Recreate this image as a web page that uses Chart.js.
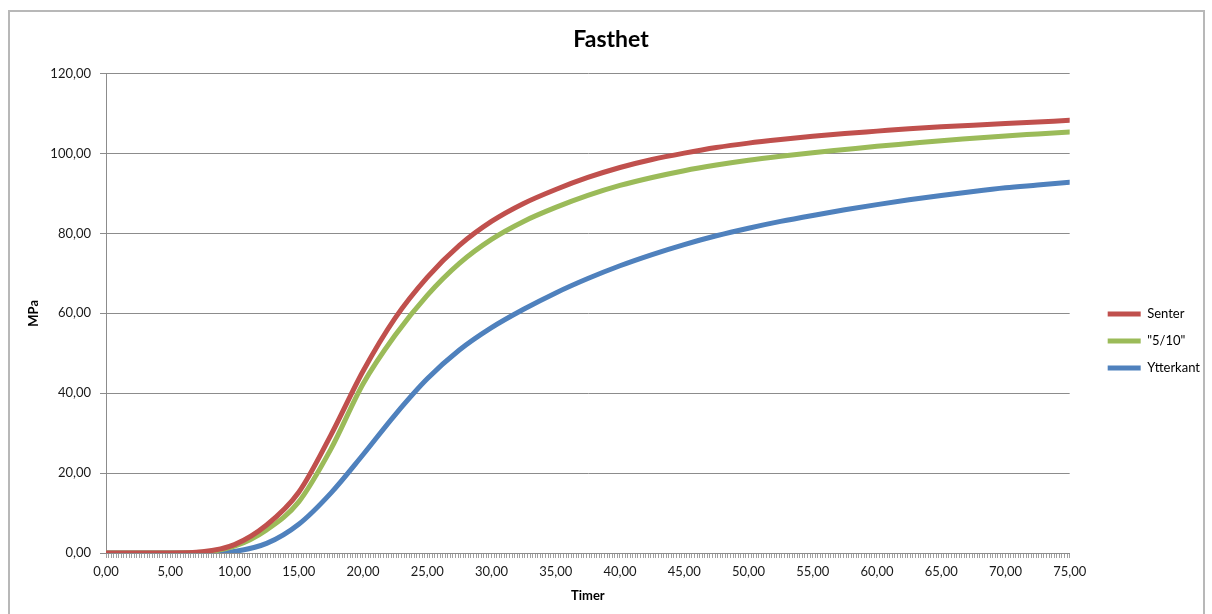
<!DOCTYPE html>
<html>
<head>
<meta charset="utf-8">
<title>Fasthet</title>
<script src="https://cdn.jsdelivr.net/npm/chart.js@4.4.0/dist/chart.umd.min.js"></script>
<style>
  html, body { margin: 0; padding: 0; background: #fff; overflow: hidden; }
  .frame { position: absolute; left: 8px; top: 10px; width: 1193px; height: 640px; border: 2px solid #b8b8b8; }
  .wrap { position: absolute; left: 0; top: 0; width: 1212px; height: 614px; }
</style>
</head>
<body>
<div class="frame"></div>
<div class="wrap"><canvas id="chart"></canvas></div>
<script>
// Data (timer -> MPa)
const timer = [0, 2.5, 5, 7.5, 10, 12.5, 15, 17.5, 20, 22.5, 25, 27.5, 30, 32.5, 35, 37.5,
               40, 42.5, 45, 47.5, 50, 52.5, 55, 57.5, 60, 62.5, 65, 67.5, 70, 72.5, 75];
const senter = [0, 0, 0, 0.3, 2.1, 7.0, 15.2, 29.5, 45.5, 58.8, 69, 77, 83, 87.5, 91, 94,
                96.5, 98.5, 100.1, 101.5, 102.6, 103.5, 104.3, 105.0, 105.6, 106.2, 106.7, 107.1, 107.5, 107.9, 108.3];
const femTi = [0, 0, 0, 0.2, 1.7, 5.8, 12.8, 26, 42.3, 54.5, 64.5, 72.5, 78.5, 83, 86.5, 89.5,
               92, 94, 95.7, 97.1, 98.3, 99.3, 100.2, 101.0, 101.8, 102.5, 103.2, 103.8, 104.4, 104.9, 105.4];
const ytterkant = [0, 0, 0, 0, 0.4, 2.4, 7.2, 15.0, 24.6, 34.6, 43.6, 50.8, 56.4, 61, 65.1, 68.7,
                   71.9, 74.7, 77.2, 79.4, 81.3, 83.0, 84.5, 85.9, 87.2, 88.4, 89.5, 90.5, 91.4, 92.1, 92.8];
const seriesNames = ["Senter", "\"5/10\"", "Ytterkant"];

const fmt = (v) => v.toFixed(2).replace(".", ",");
const toPoints = (arr) => timer.map((t, i) => ({ x: t, y: arr[i] }));

function line(label, values, color) {
    return {
        label: label,
        data: toPoints(values),
        borderColor: color,
        backgroundColor: color,
        borderWidth: 5,
        borderCapStyle: "round",
        borderJoinStyle: "round",
        pointRadius: 0,
        pointStyle: "line",
        fill: false,
        cubicInterpolationMode: "monotone"
    };
}

const gridGray = "#8c8c8c";
const ctx = document.querySelector("#chart").getContext("2d");

new Chart(ctx, {
    type: "line",
    data: {
        datasets: [
            line(seriesNames[0], senter, "#c0504d"),
            line(seriesNames[1], femTi, "#9bbb59"),
            line(seriesNames[2], ytterkant, "#4f81bd")
        ]
    },
    options: {
        responsive: true,
        maintainAspectRatio: false,
        animation: false,
        layout: { padding: { left: 12, right: 2, top: 0, bottom: 0 } },
        plugins: {
            title: {
                display: true,
                text: "Fasthet",
                color: "#000",
                font: { family: "Lato", size: 23, weight: "bold" },
                padding: { top: 26, bottom: 20 }
            },
            legend: {
                position: "right",
                // empty title only pushes the items down
                title: { display: true, text: " ", font: { size: 10 }, padding: { top: 56, bottom: 0 } },
                labels: {
                    usePointStyle: true,
                    pointStyleWidth: 33,
                    padding: 14,
                    color: "#000",
                    font: { family: "Lato", size: 13 }
                }
            },
            tooltip: { enabled: false }
        },
        scales: {
            x: {
                type: "linear",
                min: 0,
                max: 75,
                ticks: {
                    stepSize: 0.2,
                    autoSkip: false,
                    maxRotation: 0,
                    padding: 6,
                    color: "#1a1a1a",
                    font: { family: "Lato", size: 13 },
                    callback: (v) => Math.abs(v / 5 - Math.round(v / 5)) < 1e-6 ? fmt(v) : ""
                },
                grid: { drawOnChartArea: false, drawTicks: true, tickLength: 5, color: "#a0a0a0" },
                border: { color: gridGray },
                title: {
                    display: true,
                    text: "Timer",
                    color: "#000",
                    font: { family: "Lato", size: 13, weight: "bold" },
                    padding: { top: 0, bottom: 10 }
                },
                afterFit: (s) => { s.height = 61; }
            },
            y: {
                min: 0,
                max: 120,
                ticks: {
                    stepSize: 20,
                    padding: 9,
                    color: "#1a1a1a",
                    font: { family: "Lato", size: 13 },
                    callback: (v) => fmt(v)
                },
                grid: { color: gridGray, tickLength: 6 },
                border: { color: gridGray },
                title: {
                    display: true,
                    text: "MPa",
                    color: "#000",
                    font: { family: "Lato", size: 13, weight: "bold" },
                    padding: { top: 14, bottom: 0 }
                },
                afterFit: (s) => { s.width = 94; }
            },
            // empty gap between plot and legend
            gap: {
                position: "right",
                grid: { display: false },
                ticks: { display: false },
                border: { display: false },
                afterFit: (s) => { s.width = 24; }
            }
        }
    }
});
</script>
</body>
</html>
